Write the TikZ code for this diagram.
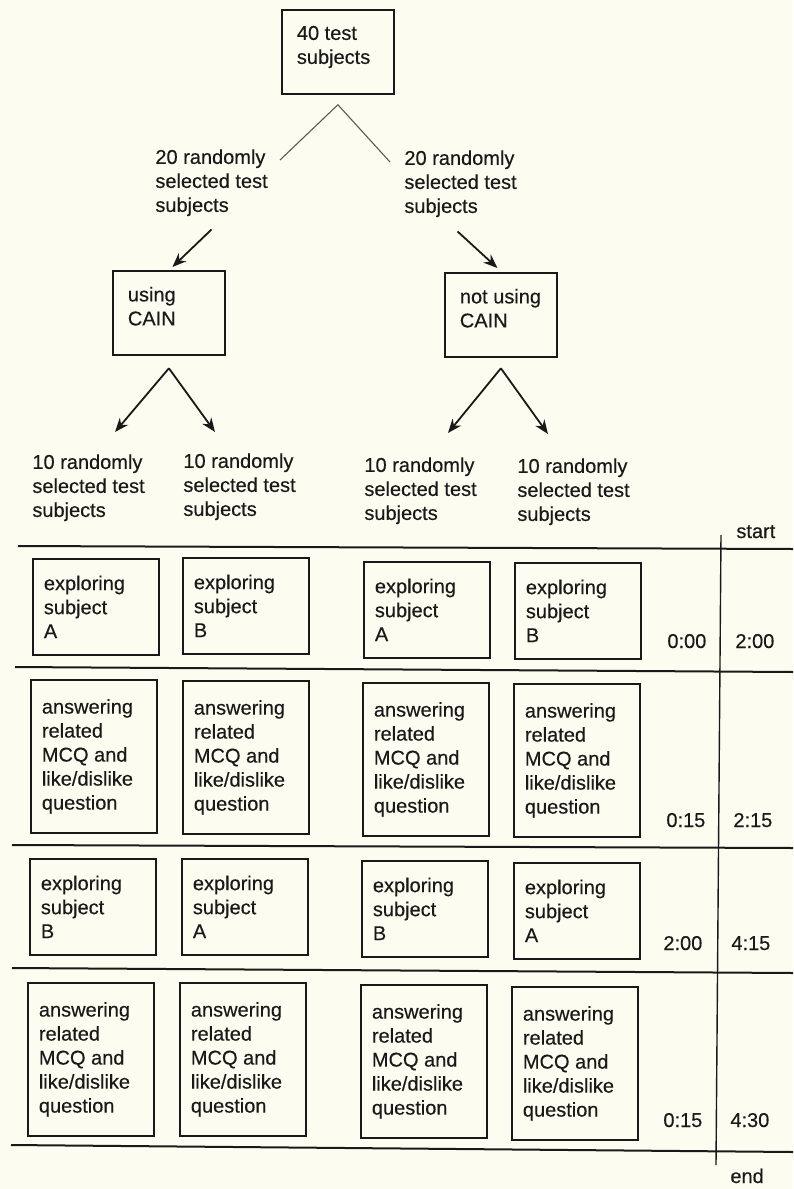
\documentclass[tikz,border=0pt]{standalone}
\usepackage{fontspec}
\setmainfont[FakeBold=0.3]{Liberation Sans}
\usetikzlibrary{arrows.meta,positioning}
\definecolor{paper}{RGB}{253,252,240}
\definecolor{ink}{RGB}{25,25,25}
\newcommand{\lowpad}{\rule[-7pt]{0pt}{7pt}}

\begin{document}
\begin{tikzpicture}[x=0.5pt, y=-0.5pt, font=\fontsize{10}{12}\selectfont, color=ink,
  groupbox/.style={draw, line width=0.9pt, anchor=north west, align=flush left,
    text width=41pt, inner xsep=7.5pt, inner ysep=8pt},
  taskbox/.style={draw, line width=0.9pt, anchor=north west, align=flush left,
    text width=52pt, inner xsep=5.5pt, inner ysep=0pt},
  explore/.style={taskbox, minimum height=48pt},
  answer/.style={taskbox, minimum height=76.5pt},
  grouptext/.style={anchor=north west, align=left, inner sep=0pt},
  timetext/.style={anchor=base west, inner sep=0pt},
  arr/.style={-{Stealth[length=7pt,width=5.5pt]}, line width=0.9pt},
  splitline/.style={line width=0.55pt, gray!70!black},
  hrule/.style={line width=1pt}]

  \useasboundingbox (0,0) rectangle (793,1189);
  \fill[paper] (0,0) rectangle (793,1189);

  % groups
  \node[groupbox] (all) at (281,9) {40 test\\subjects\lowpad};
  \node[groupbox] (usebox) at (112,270) {using\\CAIN\lowpad};
  \node[groupbox] (nusebox) at (444,272) {not using\\CAIN\lowpad};

  \node[grouptext] (l20) at (155,149) {20 randomly\\selected test\\subjects};
  \node[grouptext] (r20) at (404,150) {20 randomly\\selected test\\subjects};

  \node[grouptext] (g1) at (32,454) {10 randomly\\selected test\\subjects};
  \node[grouptext] (g2) at (183,453) {10 randomly\\selected test\\subjects};
  \node[grouptext] (g3) at (364,457) {10 randomly\\selected test\\subjects};
  \node[grouptext] (g4) at (517,458) {10 randomly\\selected test\\subjects};

  % split of the 40 subjects
  \coordinate (allsplit) at ([yshift=-5pt]all.south);
  \coordinate (alll) at (280,160);
  \coordinate (allr) at (390,162);
  \draw[splitline] (alll) -- (allsplit) -- (allr);

  \draw[arr] ([yshift=-6.5pt]l20.south) -- ([xshift=1.75pt,yshift=1.5pt]usebox.north);
  \draw[arr] ([xshift=-1.5pt,yshift=-7pt]r20.south) -- ([xshift=-1.75pt,yshift=2pt]nusebox.north);

  % split of each half
  \coordinate (usplit) at ([yshift=-6pt]usebox.south);
  \coordinate (u1) at (115,432);
  \coordinate (u2) at (215,432);
  \draw[arr] (usplit) -- (u1);
  \draw[arr] (usplit) -- (u2);

  \coordinate (nsplit) at ([yshift=-5pt]nusebox.south);
  \coordinate (n1) at (448,433);
  \coordinate (n2) at (548,434);
  \draw[arr] (nsplit) -- (n1);
  \draw[arr] (nsplit) -- (n2);

  % time table
  \draw[hrule] (18,546) -- (793,549);
  \draw[hrule] (15,667) -- (793,672);
  \draw[hrule] (12,845) -- (793,848);
  \draw[hrule] (12,968) -- (793,973);
  \draw[hrule] (11,1145) -- (793,1152);
  \draw[line width=0.7pt] (721,535) -- (716,1165);

  \node[timetext] (start) at (736,538) {start};
  \node[timetext] (end) at (730,1183) {end};

  % first session
  \node[explore] (e11) at (32,558) {exploring\\subject\\A};
  \node[explore] (e12) at (182,557) {exploring\\subject\\B};
  \node[explore] (e13) at (363,561) {exploring\\subject\\A};
  \node[explore] (e14) at (514,562) {exploring\\subject\\B};
  \node[timetext] (d1) at (667,648) {0:00};
  \node[timetext] (t1) at (735,648) {2:00};

  \node[answer] (a11) at (30,679) {answering\\related\\MCQ and\\like/dislike\\question};
  \node[answer] (a12) at (182,680) {answering\\related\\MCQ and\\like/dislike\\question};
  \node[answer] (a13) at (362,682) {answering\\related\\MCQ and\\like/dislike\\question};
  \node[answer] (a14) at (513,683) {answering\\related\\MCQ and\\like/dislike\\question};
  \node[timetext] (d2) at (666,827) {0:15};
  \node[timetext] (t2) at (733,827) {2:15};

  % second session
  \node[explore] (e21) at (29,858) {exploring\\subject\\B};
  \node[explore] (e22) at (181,858) {exploring\\subject\\A};
  \node[explore] (e23) at (361,860) {exploring\\subject\\B};
  \node[explore] (e24) at (513,862) {exploring\\subject\\A};
  \node[timetext] (d3) at (663,950) {2:00};
  \node[timetext] (t3) at (731,950) {4:15};

  \node[answer] (a21) at (27,982) {answering\\related\\MCQ and\\like/dislike\\question};
  \node[answer] (a22) at (179,982) {answering\\related\\MCQ and\\like/dislike\\question};
  \node[answer] (a23) at (360,984) {answering\\related\\MCQ and\\like/dislike\\question};
  \node[answer] (a24) at (511,986) {answering\\related\\MCQ and\\like/dislike\\question};
  \node[timetext] (d4) at (663,1127) {0:15};
  \node[timetext] (t4) at (730,1127) {4:30};
\end{tikzpicture}
\end{document}
